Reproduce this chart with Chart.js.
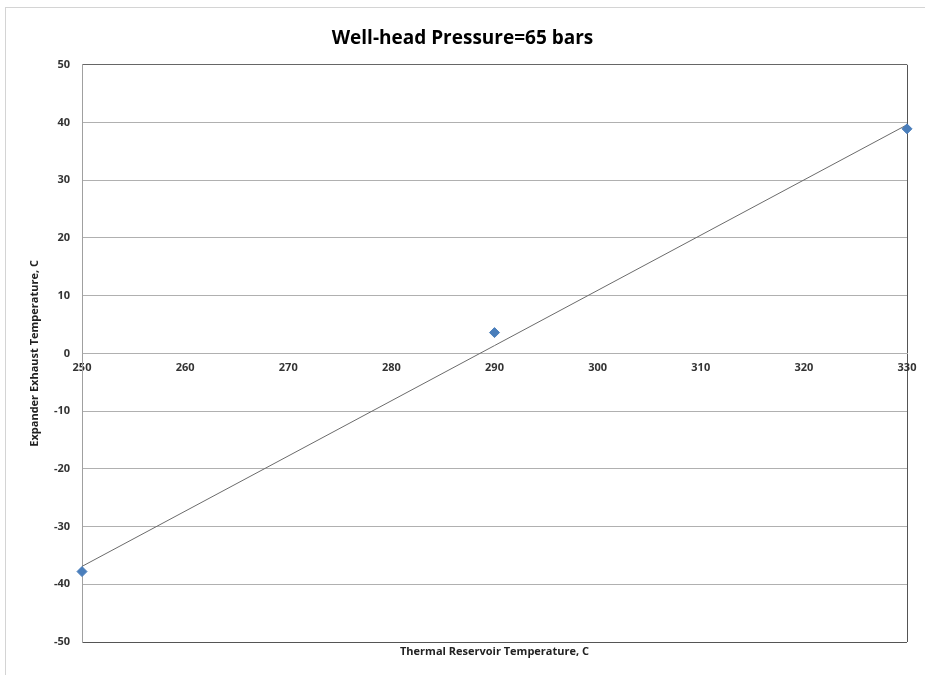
<!DOCTYPE html>
<html>
<head>
<meta charset="utf-8">
<script src="https://cdn.jsdelivr.net/npm/chart.js@4"></script>
<style>
  body { margin: 0; background: #fff; }
  #frame { position: absolute; left: 5px; top: 7px; width: 940px; height: 690px; border: 1px solid #d4d4d4; }
  #wrap { position: absolute; left: 0; top: 0; width: 925px; height: 675px; }
</style>
</head>
<body>
<div id="frame"></div>
<div id="wrap"><canvas id="chart" width="925" height="675"></canvas></div>
<script>
// Scatter data
const reservoirTemp = [250, 290, 330];
const exhaustTemp = [-37.8, 3.6, 38.9];

// Linear trendline end points
const trendX = [250, 330];
const trendY = [-36.9, 39.6];

// Axis ranges
const xMin = 250, xMax = 330, xStep = 10;
const yMin = -50, yMax = 50, yStep = 10;

const labelFont = { family: 'Open Sans', size: 11, weight: 'bold' };

const ctx = document.getElementById('chart').getContext('2d');
new Chart(ctx, {
    type: 'scatter',
    data: {
        datasets: [
            {
                label: 'Expander Exhaust Temperature',
                data: reservoirTemp.map((x, i) => ({ x: x, y: exhaustTemp[i] })),
                pointStyle: 'rectRot',
                pointRadius: 5,
                backgroundColor: '#4a7ebb',
                borderColor: '#4a7ebb',
                xAxisID: 'x',
                clip: false,
                order: 1
            },
            {
                label: 'Trend',
                type: 'line',
                data: trendX.map((x, i) => ({ x: x, y: trendY[i] })),
                borderColor: '#6b6b6b',
                borderWidth: 1,
                pointRadius: 0,
                fill: false,
                xAxisID: 'x',
                order: 2
            }
        ]
    },
    options: {
        responsive: false,
        animation: false,
        layout: { padding: { left: 18, right: 18, top: 0, bottom: 0 } },
        plugins: {
            legend: { display: false },
            tooltip: { enabled: false },
            title: {
                display: true,
                text: 'Well-head Pressure=65 bars',
                color: '#000',
                font: { family: 'Open Sans', size: 19, weight: 'bold', lineHeight: 1.25 },
                padding: { top: 27, bottom: 14 }
            }
        },
        scales: {
            x: {
                type: 'linear',
                position: { y: 0 },
                min: xMin, max: xMax,
                ticks: { stepSize: xStep, color: '#333', font: labelFont, padding: 8 },
                grid: {
                    drawTicks: false,
                    color: ctx => ctx.tick && ctx.tick.value === xMax ? '#555' : 'rgba(0,0,0,0)'
                },
                border: { display: true, color: '#b0b0b0' }
            },
            x2: {
                type: 'linear',
                position: 'bottom',
                min: xMin, max: xMax,
                ticks: { display: false },
                grid: { display: false, drawTicks: false },
                border: { display: false },
                title: {
                    display: true,
                    text: 'Thermal Reservoir Temperature, C',
                    color: '#222',
                    font: labelFont,
                    padding: { top: 2, bottom: 17 }
                },
                afterFit: s => { s.height = 33; }
            },
            y: {
                type: 'linear',
                min: yMin, max: yMax,
                ticks: { stepSize: yStep, color: '#333', font: labelFont, padding: 12 },
                grid: {
                    drawTicks: false,
                    color: ctx => {
                        if (!ctx.tick) return '#b0b0b0';
                        if (ctx.tick.value === yMax) return '#666';
                        if (ctx.tick.value === yMin) return '#555';
                        return '#b0b0b0';
                    }
                },
                border: { display: true, color: '#a0a0a0' },
                title: {
                    display: true,
                    text: 'Expander Exhaust Temperature, C',
                    color: '#222',
                    font: labelFont,
                    padding: { top: 10, bottom: 4 }
                },
                afterFit: s => { s.width = 64; }
            }
        }
    }
});
</script>
</body>
</html>
